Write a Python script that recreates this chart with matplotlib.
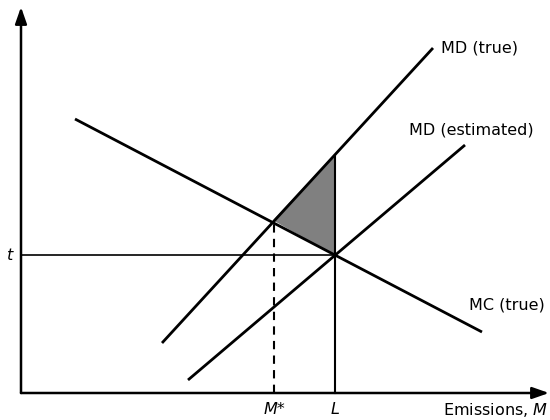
import matplotlib
matplotlib.use("Agg")
import matplotlib.pyplot as plt

# Data (diagram coordinates, origin at axes corner)
t_level = 138
L_pos = 314
M_star = 253
mc_x = [54, 461]
mc_y = [274, 61]
md_true_x = [141, 412]
md_true_y = [50, 345]
md_est_x = [167, 444]
md_est_y = [13, 248]
tri_x = [253, 314, 314]
tri_y = [173, 238, 138]

fig = plt.figure(figsize=(5.5, 4.2), dpi=100)
ax = fig.add_axes([0, 0, 1, 1])
ax.set_xlim(-21, 529)
ax.set_ylim(-27, 393)
ax.axis("off")

lw = 2.0
# axes with arrows
ax.annotate("", xy=(0, 386), xytext=(0, 0),
            arrowprops=dict(arrowstyle="-|>,head_length=1.0,head_width=0.35", lw=1.8, color="black", shrinkA=0, shrinkB=0))
ax.annotate("", xy=(528, 0), xytext=(0, 0),
            arrowprops=dict(arrowstyle="-|>,head_length=1.0,head_width=0.35", lw=1.8, color="black", shrinkA=0, shrinkB=0))

ax.fill(tri_x, tri_y, color="#808080", zorder=1)
ax.plot([0, L_pos], [t_level, t_level], color="black", lw=1.2)
ax.plot([L_pos, L_pos], [0, 238], color="black", lw=1.5)
ax.plot([M_star, M_star], [0, 173], color="black", lw=1.5, ls=(0, (4, 3)))
ax.plot(mc_x, mc_y, color="black", lw=lw, solid_capstyle="butt")
ax.plot(md_true_x, md_true_y, color="black", lw=lw, solid_capstyle="butt")
ax.plot(md_est_x, md_est_y, color="black", lw=lw, solid_capstyle="butt")

fs = 11.5
ax.text(420, 345, "MD (true)", fontsize=fs, va="center", ha="left")
ax.text(388, 263, "MD (estimated)", fontsize=fs, va="center", ha="left")
ax.text(448, 88, "MC (true)", fontsize=fs, va="center", ha="left")
ax.text(-11, t_level, "t", fontsize=fs, va="center", ha="center", style="italic")
ax.text(M_star, -17, "M*", fontsize=fs, va="center", ha="center", style="italic")
ax.text(L_pos, -17, "L", fontsize=fs, va="center", ha="center", style="italic")
ax.text(527, -17, "Emissions, $\\mathit{M}$", fontsize=fs, va="center", ha="right")

fig.savefig("out.png", dpi=100)
